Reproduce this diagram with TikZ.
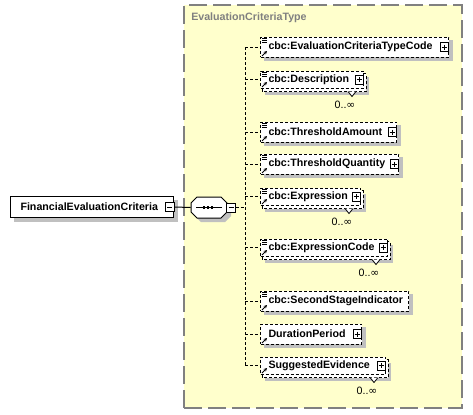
\documentclass[tikz,border=0pt]{standalone}
\usepackage{fontspec}
\setmainfont{Liberation Sans}
\newfontfamily\symfont{DejaVu Sans}
\usetikzlibrary{calc,arrows.meta}
\pgfdeclarelayer{yellowlayer}
\pgfdeclarelayer{shadowlayer}
\pgfsetlayers{yellowlayer,shadowlayer,main}
\definecolor{typeyellow}{RGB}{255,255,204}
\definecolor{typegray}{RGB}{128,128,128}
\definecolor{shadowgray}{RGB}{192,192,192}
\tikzset{
  elem/.style={draw=black, fill=white, line width=0.75pt, dash pattern=on 2.25pt off 1.5pt,
    inner xsep=0pt, inner ysep=0pt, anchor=west, align=left,
    font=\bfseries\fontsize{8pt}{9.6pt}\selectfont, text=black},
  elemone/.style={elem, minimum height=15pt},
  elemmany/.style={elem, minimum height=12.75pt},
  elemline/.style={draw=black, fill=white, line width=0.75pt, dash pattern=on 2.25pt off 1.5pt},
  conn/.style={draw=black, line width=0.75pt, dash pattern=on 2.25pt off 1.5pt},
  iconline/.style={draw=black, line width=0.6pt, solid},
  pm/.style={draw=black, line width=0.6pt, solid, fill=white},
  pmnode/.style={draw=black, fill=white, line width=0.6pt, solid, minimum width=6.5pt, minimum height=6.75pt, inner sep=0pt},
  multlabel/.style={font=\fontsize{8pt}{9.6pt}\selectfont, inner sep=0pt, text=black},
  typebox/.style={draw=typegray, fill=typeyellow, line width=0.9pt, dash pattern=on 13.5pt off 4.5pt},
  mainstyle/.style={draw=black, fill=white, line width=0.75pt, solid, anchor=west, text width=122.25pt,
    minimum height=15.75pt, inner sep=0pt, align=left, font=\bfseries\fontsize{8pt}{9.6pt}\selectfont},
}
\newcommand\dgShadow[2]{%
  \begin{pgfonlayer}{shadowlayer}
    \fill[shadowgray] ($(#1.north west)+(#2,#2)$) rectangle ($(#1.south east)+(#2,#2)$);
  \end{pgfonlayer}}
\newcommand\dgMulti[1]{%
  \begin{pgfonlayer}{shadowlayer}
    \fill[shadowgray] ($(#1.north west)+(5,6)$) rectangle ($(#1.south east)+(5,6)$);
    \draw[elemline] ($(#1.north west)+(2,3)$) rectangle ($(#1.south east)+(2,3)$);
  \end{pgfonlayer}
  \draw[pm] ($(#1.south east)+(-16,3)$) -- ++(4,5) -- ++(4,-5);
  \node[multlabel] (#1m) at ($(#1.south east)+(-19,16)$) {0..{\symfont ∞}};}
\newcommand\dgList[1]{\draw[iconline] ($(#1.north west)+(2,1.5)$) -- ++(5,0)
  ($(#1.north west)+(2,3.5)$) -- ++(5,0) ($(#1.north west)+(2,5.5)$) -- ++(5,0);}
\newcommand\dgRef[1]{\draw[iconline,-{Stealth[length=2.5pt,width=2.5pt]}] ($(#1.south west)+(2,-1.5)$) -- ++(5,-5);}
\newcommand\dgPlus[1]{\draw[pm] ($(#1.east)+(-9,-4.5)$) rectangle ($(#1.east)+(-1,4.5)$);
  \draw[iconline] ($(#1.east)+(-7.5,0)$) -- ($(#1.east)+(-2.5,0)$) ($(#1.east)+(-5,-2.5)$) -- ($(#1.east)+(-5,2.5)$);}
\begin{document}
\begin{tikzpicture}[x=0.75pt,y=-0.75pt]
\useasboundingbox (0,0) rectangle (473,414);
\begin{pgfonlayer}{yellowlayer}
  \node[typebox, minimum width=208.5pt, minimum height=302.25pt, inner sep=0pt] (tbox) at (323,206.5) {};
\end{pgfonlayer}
\node[anchor=west, inner sep=0pt, text=typegray, font=\bfseries\fontsize{8pt}{9.6pt}\selectfont] (tlabel) at (191,18) {EvaluationCriteriaType};

% main element
\node[mainstyle] (main) at (10,207) {\hspace*{7.5pt}\mbox{FinancialEvaluationCriteria}};
\dgShadow{main}{4}
\node[pmnode, minimum width=6.75pt] (mainminus) at ($(main.east)+(-4.5,0)$) {};
\draw[iconline] ($(mainminus.center)+(-2.5,0)$) -- ($(mainminus.center)+(2.5,0)$);

% sequence compositor
\node[minimum width=27pt, minimum height=15.75pt, inner sep=0pt] (seq) at (209,207.5) {};
\begin{pgfonlayer}{shadowlayer}
\begin{scope}[shift={(seq.center)}]
  \fill[shadowgray] (-14,-0.5) -- (-8,-6.5) -- (16,-6.5) -- (22,-0.5) -- (22,8.5) -- (16,14.5) -- (-8,14.5) -- (-14,8.5) -- cycle;
\end{scope}
\end{pgfonlayer}
\begin{scope}[shift={(seq.center)}]
  \draw[fill=white, line width=0.75pt] (-18,-4.5) -- (-12,-10.5) -- (12,-10.5) -- (18,-4.5) -- (18,4.5) -- (12,10.5) -- (-12,10.5) -- (-18,4.5) -- cycle;
  \draw[line width=0.75pt] (-13,0) -- (13,0);
  \foreach \d in {-5,-1,3} \fill (\d-1.3,-1.3) rectangle (\d+1.3,1.3);
\end{scope}
\node[pmnode] (seqminus) at (231,207.5) {};
\draw[iconline] ($(seqminus.center)+(-2.5,0)$) -- ($(seqminus.center)+(2.5,0)$);
\draw[line width=0.75pt] (mainminus.east) -- (seq.west);

% children
\node[elemone, text width=141pt] (c1) at (260,47) {\hspace*{6pt}\mbox{cbc:EvaluationCriteriaTypeCode}};
\node[elemmany, text width=77.25pt] (c2) at (260,79.5) {\hspace*{6pt}\mbox{cbc:Description}};
\node[elemone, text width=102pt] (c3) at (260,132) {\hspace*{6pt}\mbox{cbc:ThresholdAmount}};
\node[elemone, text width=103.5pt] (c4) at (260,164) {\hspace*{6pt}\mbox{cbc:ThresholdQuantity}};
\node[elemmany, text width=75pt] (c5) at (260,196.5) {\hspace*{6pt}\mbox{cbc:Expression}};
\node[elemmany, text width=95.25pt] (c6) at (260,247.5) {\hspace*{6pt}\mbox{cbc:ExpressionCode}};
\node[elemone, text width=111pt] (c7) at (260,301) {\hspace*{6pt}\mbox{cbc:SecondStageIndicator}};
\node[elemone, text width=75.75pt] (c8) at (260,334) {\hspace*{6pt}\mbox{DurationPeriod}};
\node[elemmany, text width=93.75pt] (c9) at (260,365.5) {\hspace*{6pt}\mbox{SuggestedEvidence}};

\foreach \n in {c1,c3,c4,c7,c8} {\dgShadow{\n}{3.5}}
\foreach \n in {c2,c5,c6,c9} {\dgMulti{\n}}
\foreach \n in {c1,c2,c3,c4,c5,c6,c7} {\dgList{\n}}
\foreach \n in {c1,c2,c3,c4,c5,c6,c7,c8,c9} {\dgRef{\n}}
\foreach \n in {c1,c2,c3,c4,c5,c6,c8,c9} {\dgPlus{\n}}

% connectors
\coordinate (trunk) at (245,207.5);
\draw[conn] (seqminus.east) -- (trunk);
\draw[conn] (trunk |- c1.west) -- (trunk |- c9.west);
\foreach \n in {c1,c2,c3,c4,c5,c6,c7,c8,c9} {\draw[conn] (trunk |- \n.west) -- (\n.west);}
\end{tikzpicture}
\end{document}
